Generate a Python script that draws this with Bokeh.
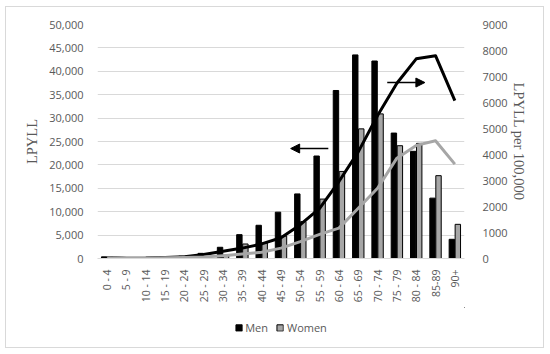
from bokeh.plotting import figure
from bokeh.layouts import column
from bokeh.models import (Range1d, LinearAxis, FixedTicker, NumeralTickFormatter,
                          Legend, LegendItem, Arrow, NormalHead, ColumnDataSource)
from bokeh.embed import file_html
from bokeh.resources import INLINE
import math

age_groups = ["0 - 4", "5 - 9", "10 - 14", "15 - 19", "20 - 24", "25 - 29", "30 - 34",
              "35 - 39", "40 - 44", "45 - 49", "50 - 54", "55 - 59", "60 - 64", "65 - 69",
              "70 - 74", "75 - 79", "80 - 84", "85-89", "90+"]
men_lpyll = [350, 100, 150, 300, 500, 1100, 2400, 5100, 7100, 9900, 13800, 21900,
             35900, 43500, 42200, 26800, 22900, 12900, 4100]
women_lpyll = [300, 80, 100, 200, 250, 450, 700, 3100, 3300, 4800, 7900, 12700,
               18600, 27700, 30900, 24100, 24600, 17700, 7300]
men_rate = [40, 10, 15, 40, 70, 150, 280, 400, 560, 800, 1300, 1930,
            2960, 4100, 5500, 6740, 7680, 7800, 6070]
women_rate = [30, 8, 10, 25, 40, 60, 110, 170, 240, 400, 650, 930,
              1170, 1930, 2700, 3860, 4350, 4530, 3630]
series_names = ["Men", "Women"]
left_ticks = list(range(0, 50001, 5000))
right_ticks = list(range(0, 9001, 1000))

idx = list(range(len(age_groups)))
src = ColumnDataSource(dict(
    x=idx,
    xm=[i - 0.155 for i in idx],
    xw=[i + 0.155 for i in idx],
    men=men_lpyll, women=women_lpyll,
    mr=men_rate, wr=women_rate,
))

GRAY_TXT = "#595959"
GRID = "#d9d9d9"
MEN_COLOR = "black"
WOMEN_COLOR = "#a6a6a6"

p = figure(width=537, height=300, output_backend="svg", toolbar_location=None,
           x_range=Range1d(-0.5, len(age_groups) - 0.5), y_range=Range1d(0, 50000),
           min_border_left=91, min_border_right=79, min_border_top=17, min_border_bottom=49)
p.extra_y_ranges = {"rate": Range1d(0, 9000)}
p.outline_line_color = None
p.xgrid.grid_line_color = None
p.ygrid.grid_line_color = GRID
p.ygrid.ticker = FixedTicker(ticks=left_ticks)

# left axis
ya = p.yaxis[0]
ya.ticker = FixedTicker(ticks=left_ticks)
ya.formatter = NumeralTickFormatter(format="0,0")
ya.axis_line_color = None
ya.major_tick_line_color = None
ya.minor_tick_line_color = None
ya.major_label_text_color = GRAY_TXT
ya.major_label_text_font = "Open Sans"
ya.major_label_text_font_size = "11px"
ya.major_label_standoff = 8
ya.axis_label = "LPYLL"
ya.axis_label_text_font = "Liberation Serif"
ya.axis_label_text_font_style = "normal"
ya.axis_label_text_font_size = "14.5px"
ya.axis_label_text_color = GRAY_TXT
ya.axis_label_standoff = 6

# bottom axis
xa = p.xaxis[0]
xa.ticker = FixedTicker(ticks=idx)
xa.major_label_overrides = {i: lab for i, lab in enumerate(age_groups)}
xa.major_label_orientation = math.pi / 2
xa.axis_line_color = GRID
xa.major_tick_line_color = None
xa.minor_tick_line_color = None
xa.major_label_text_color = GRAY_TXT
xa.major_label_text_font = "Open Sans"
xa.major_label_text_font_size = "10.5px"
xa.major_label_standoff = 5

# right axis
ra = LinearAxis(y_range_name="rate", ticker=FixedTicker(ticks=right_ticks))
ra.axis_line_color = None
ra.major_tick_line_color = None
ra.minor_tick_line_color = None
ra.major_label_text_color = GRAY_TXT
ra.major_label_text_font = "Open Sans"
ra.major_label_text_font_size = "11px"
ra.major_label_standoff = 12
ra.axis_label = "LPYLL per 100,000"
ra.axis_label_text_font = "Liberation Serif"
ra.axis_label_text_font_style = "normal"
ra.axis_label_text_font_size = "14.5px"
ra.axis_label_text_color = GRAY_TXT
ra.axis_label_standoff = 0
p.add_layout(ra, "right")

rm = p.vbar(x="xm", top="men", width=0.28, source=src, fill_color=MEN_COLOR, line_color="black")
rw = p.vbar(x="xw", top="women", width=0.28, source=src, fill_color=WOMEN_COLOR,
            line_color="black", line_width=1)

p.line(x="x", y="mr", source=src, y_range_name="rate", line_color=MEN_COLOR,
       line_width=3, line_join="round")
p.line(x="x", y="wr", source=src, y_range_name="rate", line_color=WOMEN_COLOR,
       line_width=3, line_join="round")

p.add_layout(Arrow(x_start=11.45, y_start=23500, x_end=9.5, y_end=23500,
                   line_color="black", line_width=1.5,
                   end=NormalHead(size=9, fill_color="black", line_color="black")))
p.add_layout(Arrow(x_start=14.5, y_start=37600, x_end=16.45, y_end=37600,
                   line_color="black", line_width=1.5,
                   end=NormalHead(size=9, fill_color="black", line_color="black")))

# legend strip (proxy glyphs placed far outside the visible area; only the legend shows)
lf = figure(width=537, height=40, output_backend="svg", toolbar_location=None,
            x_range=Range1d(0, 1), y_range=Range1d(0, 1),
            min_border=0, min_border_left=0, min_border_right=0,
            min_border_top=0, min_border_bottom=0)
lf.axis.visible = False
lf.grid.visible = False
lf.outline_line_color = None
far = 1e6
lm = lf.vbar(x=[far], top=[far + 1], bottom=[far], width=0.01,
             fill_color=MEN_COLOR, line_color="black")
lw = lf.vbar(x=[far], top=[far + 1], bottom=[far], width=0.01,
             fill_color=WOMEN_COLOR, line_color="black")
legend = Legend(items=[LegendItem(label=series_names[0], renderers=[lm]),
                       LegendItem(label=series_names[1], renderers=[lw])],
                location="center", orientation="horizontal",
                glyph_width=8, glyph_height=8, label_standoff=3, spacing=8,
                padding=0, margin=0, border_line_color=None, background_fill_alpha=0,
                label_text_font="Open Sans", label_text_font_size="11px",
                label_text_color=GRAY_TXT)
lf.add_layout(legend, "center")

layout = column(p, lf, margin=(6, 0, 0, 5),
                styles={"border": "1px solid #d9d9d9"})

open("out.html", "w").write(file_html(layout, INLINE))
